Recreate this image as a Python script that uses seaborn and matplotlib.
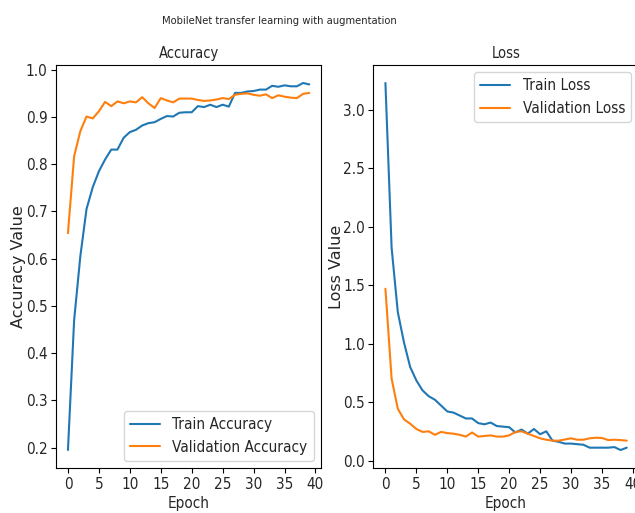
import numpy as np
import pandas as pd
import matplotlib
matplotlib.use("Agg")
import matplotlib.pyplot as plt
import seaborn as sns

epochs = list(range(40))

train_acc = [0.195, 0.47, 0.605, 0.705, 0.751, 0.785, 0.81, 0.831, 0.831, 0.856,
             0.868, 0.873, 0.882, 0.887, 0.889, 0.896, 0.902, 0.901, 0.909, 0.91,
             0.91, 0.923, 0.921, 0.926, 0.921, 0.926, 0.922, 0.951, 0.951, 0.954,
             0.955, 0.958, 0.958, 0.966, 0.964, 0.967, 0.965, 0.965, 0.972, 0.969]
val_acc = [0.654, 0.817, 0.87, 0.901, 0.897, 0.912, 0.932, 0.923, 0.933, 0.929,
           0.933, 0.931, 0.942, 0.929, 0.919, 0.94, 0.935, 0.931, 0.939, 0.939,
           0.939, 0.936, 0.934, 0.935, 0.937, 0.94, 0.938, 0.947, 0.949, 0.95,
           0.947, 0.945, 0.948, 0.94, 0.946, 0.943, 0.941, 0.94, 0.949, 0.951]
train_loss = [3.23, 1.82, 1.27, 1.01, 0.80, 0.685, 0.60, 0.55, 0.52, 0.47,
              0.42, 0.41, 0.385, 0.36, 0.36, 0.32, 0.31, 0.325, 0.295, 0.29,
              0.285, 0.24, 0.265, 0.23, 0.27, 0.225, 0.25, 0.17, 0.16, 0.145,
              0.145, 0.14, 0.135, 0.11, 0.11, 0.11, 0.11, 0.115, 0.09, 0.11]
val_loss = [1.47, 0.70, 0.443, 0.352, 0.315, 0.27, 0.245, 0.25, 0.22, 0.245,
            0.235, 0.23, 0.22, 0.205, 0.24, 0.205, 0.21, 0.215, 0.205, 0.205,
            0.215, 0.245, 0.25, 0.23, 0.21, 0.19, 0.178, 0.17, 0.17, 0.18,
            0.19, 0.178, 0.178, 0.19, 0.195, 0.193, 0.175, 0.178, 0.175, 0.17]

acc_labels = ["Train Accuracy", "Validation Accuracy"]
loss_labels = ["Train Loss", "Validation Loss"]

sns.set_style("white")
plt.rcParams["axes.edgecolor"] = "black"
plt.rcParams["font.family"] = ["DejaVu Sans"]
plt.rcParams["font.stretch"] = "condensed"

acc_df = pd.DataFrame({
    "Epoch": epochs * 2,
    "Value": train_acc + val_acc,
    "Series": [acc_labels[0]] * 40 + [acc_labels[1]] * 40,
})
loss_df = pd.DataFrame({
    "Epoch": epochs * 2,
    "Value": train_loss + val_loss,
    "Series": [loss_labels[0]] * 40 + [loss_labels[1]] * 40,
})

colors = ["#1f77b4", "#ff7f0e"]

fig, (ax1, ax2) = plt.subplots(1, 2, figsize=(6.35, 5.13), dpi=100)
fig.subplots_adjust(left=0.088, right=1.006, bottom=0.087, top=0.874, wspace=0.196)

sns.lineplot(data=acc_df, x="Epoch", y="Value", hue="Series", hue_order=acc_labels,
             palette=colors, ax=ax1, linewidth=1.5)
sns.lineplot(data=loss_df, x="Epoch", y="Value", hue="Series", hue_order=loss_labels,
             palette=colors, ax=ax2, linewidth=1.5)

for ax, title, ylab, loc in [(ax1, "Accuracy", "Accuracy Value", "lower right"),
                             (ax2, "Loss", "Loss Value", "upper right")]:
    ax.set_title(title, fontsize=10.5, pad=5)
    ax.set_xlabel("Epoch", fontsize=11, labelpad=3)
    ax.set_ylabel(ylab, fontsize=11.5, fontstretch="normal")
    ax.yaxis.set_label_coords(-0.112, 0.5)
    ax.set_xticks([0, 5, 10, 15, 20, 25, 30, 35, 40])
    ax.tick_params(axis="both", labelsize=11, length=3.5, width=0.8, color="black",
                   left=True, bottom=True, pad=2.5)
    for s in ax.spines.values():
        s.set_color("black")
        s.set_linewidth(0.8)
    leg = ax.legend(loc=loc, fontsize=11, frameon=True)
    leg.set_title(None)

ax1.set_yticks([0.2, 0.3, 0.4, 0.5, 0.6, 0.7, 0.8, 0.9, 1.0])
ax2.set_yticks([0.0, 0.5, 1.0, 1.5, 2.0, 2.5, 3.0])

fig.suptitle("MobileNet transfer learning with augmentation", fontsize=8, x=0.44, y=0.968)

fig.savefig("out.png", dpi=100)
